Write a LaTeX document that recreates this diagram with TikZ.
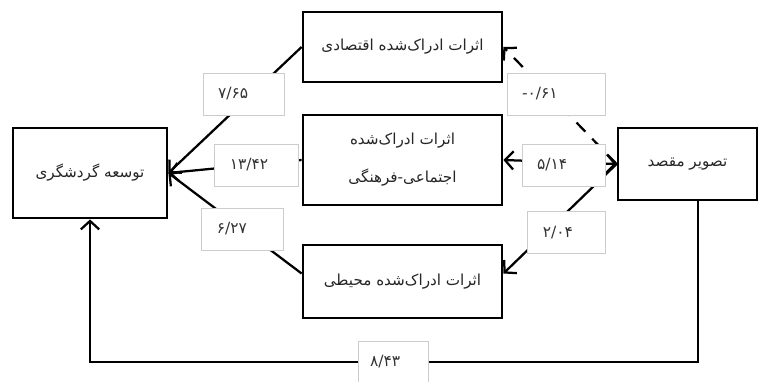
\documentclass[tikz,border=0pt]{standalone}
\usepackage{fontspec}
\newfontfamily\arabicfont[Script=Arabic]{DejaVu Sans}
\TeXXeTstate=1
\usetikzlibrary{arrows.meta}

\begin{document}
\begin{tikzpicture}[>={Straight Barb[length=6pt,width=13pt]}]
		\useasboundingbox (0,0) rectangle (19.025,9.525);
		\tikzset{BoxStyle/.style = {draw=black,line width=2pt,fill=white,inner sep=0pt,align=center,
			text=black!85,font=\arabicfont\fontsize{10.8}{27}\selectfont}}
		\tikzset{NumStyle/.style = {draw=black!20,line width=0.5pt,fill=white,inner ysep=0pt,inner xsep=0.375cm,
			minimum height=1.05cm,align=left,text=black!80,font=\arabicfont\fontsize{11}{12}\selectfont}}
		\tikzset{EdgeStyle/.style = {line width=1.6pt}}
		% boxes
		{
			\tikzset{BoxStyle/.append style = {minimum width=4.975cm}}
			\node[BoxStyle,minimum height=1.75cm] (econ) at (10.0625,8.35) {\beginR اثرات ادراک‌شده اقتصادی\endR};
			\node[BoxStyle,minimum height=2.25cm] (social) at (10.0625,5.525) {\beginR اثرات ادراک‌شده\endR\\\beginR اجتماعی-فرهنگی\endR};
			\node[BoxStyle,minimum height=1.825cm] (env) at (10.0625,2.4875) {\beginR اثرات ادراک‌شده محیطی\endR};
		}
		\node[BoxStyle,minimum width=3.85cm,minimum height=2.25cm] (tourism) at (2.25,5.2) {\beginR توسعه گردشگری\endR};
		\node[BoxStyle,minimum width=3.475cm,minimum height=1.8cm] (image) at (17.1875,5.425) {\beginR تصویر مقصد\endR};
		% paths
		\draw[EdgeStyle,->] (econ.west) -- (tourism.east);
		\draw[EdgeStyle,->] (social.west) -- (tourism.east);
		\draw[EdgeStyle,->] ([yshift=0.2cm]env.west) -- (tourism.east);
		\draw[EdgeStyle,->,dash pattern=on 9pt off 7pt] (image.west) -- (econ.east);
		\draw[EdgeStyle,<->] (image.west) -- (social.east);
		\draw[EdgeStyle,->] (image.west) -- ([yshift=0.2cm]env.east);
		\coordinate (loopR) at (17.45,0.475);
		\coordinate (loopL) at (2.25,0.475);
		\draw[EdgeStyle,->] (image.south -| loopR) -- (loopR) -- (loopL) -- (tourism.south);
		% coefficients
		\node[NumStyle,text width=1.275cm] (n1) at (6.09,7.175) {۷/۶۵};
		\node[NumStyle,text width=1.7cm] (n2) at (13.9,7.175) {\hbox{-}۰/۶۱};
		\node[NumStyle,text width=1.33cm] (n3) at (6.41,5.4) {۱۳/۴۲};
		\node[NumStyle,text width=1.33cm] (n4) at (14.09,5.4) {۵/۱۴};
		\node[NumStyle,text width=1.28cm] (n5) at (6.06,3.8) {۶/۲۷};
		\node[NumStyle,text width=1.18cm] (n6) at (14.16,3.71) {۲/۰۴};
		\node[NumStyle,inner xsep=0.3cm,text width=1.15cm] (n7) at (9.825,0.475) {۸/۴۳};
	\end{tikzpicture}
\end{document}
